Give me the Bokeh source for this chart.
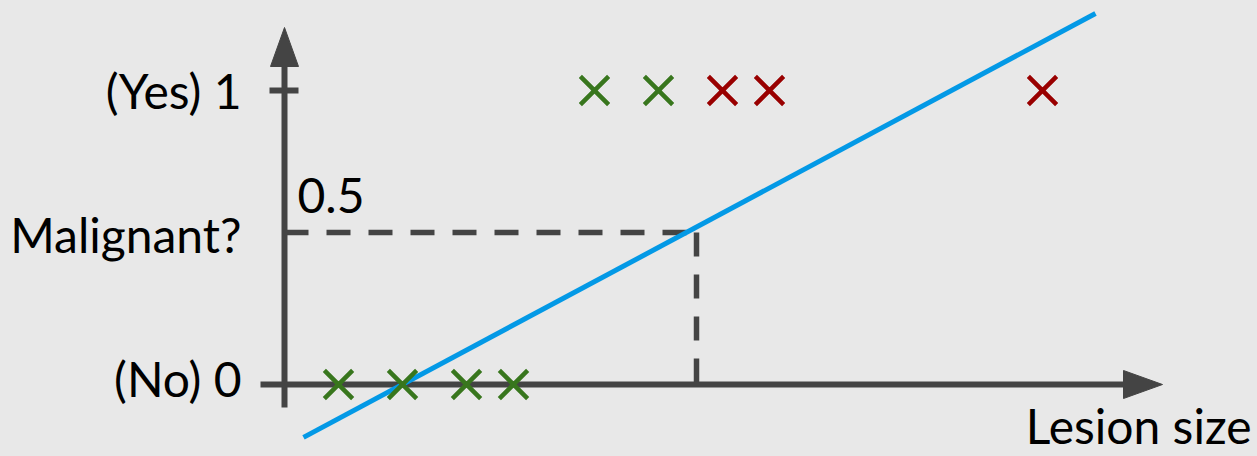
from bokeh.plotting import figure
from bokeh.embed import file_html
from bokeh.resources import INLINE
from bokeh.models import Range1d
from bokeh.core.properties import value

# ---------------- data ----------------
# benign / malignant tumours: lesion size (x) and malignant? (0 = No, 1 = Yes)
benign_x = [0.54, 1.18, 1.82, 2.29, 3.10, 3.74]
benign_y = [0, 0, 0, 0, 1, 1]
malignant_x = [4.38, 4.85, 7.58]
malignant_y = [1, 1, 1]

# straight-line (linear regression) fit
fit_x = [0.19, 8.11]
fit_y = [-0.18, 1.262]

# threshold
threshold_x = 4.12
threshold_y = 0.517
threshold_label = "0.5"

y_tick_values = [0, 1]
y_tick_labels = ["(No) 0", "(Yes) 1"]
y_title = "Malignant?"
x_title = "Lesion size"

# ---------------- layout ----------------
W, H = 1257, 456
MARGIN = 0
ORIGIN_PX = (284, 384)      # page pixel of the origin
PX_X = 100.0                # pixels per x unit
PX_Y = 294.0                # pixels per y unit


def dx(px):
    return px / PX_X


def dy(px):
    return px / PX_Y


x0 = -(ORIGIN_PX[0] - MARGIN) / PX_X
y1 = (ORIGIN_PX[1] - MARGIN) / PX_Y
x_range = Range1d(x0, x0 + W / PX_X)
y_range = Range1d(y1 - H / PX_Y, y1)

BG = "#e8e8e8"
AXIS = "#444444"
GREEN = "#38761d"
RED = "#990000"
BLUE = "#0399e6"
FONT = value("Lato")
FSIZE = "48px"
TEXT_SHIFT = -17

p = figure(width=W, height=H, x_range=x_range, y_range=y_range,
           output_backend="svg", toolbar_location=None, min_border=0,
           background_fill_color=BG, border_fill_color=BG)
p.axis.visible = False
p.grid.visible = False
p.outline_line_color = None

# axes with arrow heads
X_TIP = dx(1162 - ORIGIN_PX[0])
Y_TIP = dy(ORIGIN_PX[1] - 27)
HEAD_LEN = 38
HEAD_HALF = 14
p.segment(x0=[-dx(24)], y0=[0], x1=[X_TIP - dx(HEAD_LEN)], y1=[0],
          line_color=AXIS, line_width=6)
p.segment(x0=[0], y0=[-dy(23)], x1=[0], y1=[Y_TIP - dy(HEAD_LEN)],
          line_color=AXIS, line_width=6)
p.patch([X_TIP - dx(HEAD_LEN + 1), X_TIP - dx(HEAD_LEN + 1), X_TIP],
        [dy(HEAD_HALF), -dy(HEAD_HALF), 0],
        fill_color=AXIS, line_color=AXIS, line_width=1)
p.patch([-dx(HEAD_HALF), dx(HEAD_HALF), 0],
        [Y_TIP - dy(HEAD_LEN + 1), Y_TIP - dy(HEAD_LEN + 1), Y_TIP],
        fill_color=AXIS, line_color=AXIS, line_width=1)
# tick at y = 1
p.segment(x0=[-dx(15)], y0=[y_tick_values[1]], x1=[dx(14)], y1=[y_tick_values[1]],
          line_color=AXIS, line_width=6)

# dashed threshold guides
p.line([0, threshold_x], [threshold_y, threshold_y],
       line_color=AXIS, line_width=5.5, line_dash="24 18")
p.line([threshold_x, threshold_x], [threshold_y, 0],
       line_color=AXIS, line_width=5.5, line_dash="24 18")

# fitted line
p.line(fit_x, fit_y, line_color=BLUE, line_width=5)

# points
p.scatter(benign_x, benign_y, marker="x", size=40, line_color=GREEN, line_width=4.5)
p.scatter(malignant_x, malignant_y, marker="x", size=40, line_color=RED, line_width=4.5)

# texts
LABEL_X = dx(241 - ORIGIN_PX[0])
p.text(x=[LABEL_X] * 2, y=y_tick_values, text=y_tick_labels,
       y_offset=[11 + TEXT_SHIFT, 17 + TEXT_SHIFT], text_align="right",
       text_baseline="alphabetic",
       text_font=FONT, text_font_size=FSIZE, text_color="#000000")
p.text(x=[LABEL_X], y=[threshold_y], text=[y_title], y_offset=19 + TEXT_SHIFT,
       text_align="right", text_baseline="alphabetic",
       text_font=FONT, text_font_size=FSIZE, text_color="#000000")
p.text(x=[dx(297 - ORIGIN_PX[0])], y=[threshold_y], text=[threshold_label],
       y_offset=-20 + TEXT_SHIFT,
       text_align="left", text_baseline="alphabetic",
       text_font=FONT, text_font_size=FSIZE, text_color="#000000")
p.text(x=[dx(1251 - ORIGIN_PX[0])], y=[0], text=[x_title], y_offset=58 + TEXT_SHIFT,
       text_align="right", text_baseline="alphabetic",
       text_font=FONT, text_font_size=FSIZE, text_color="#000000")

html = file_html(p, INLINE, title="Lesion size vs malignant")
html = html.replace("</head>", "<style>html, body { background: %s; }</style></head>" % BG, 1)
open("out.html", "w").write(html)
